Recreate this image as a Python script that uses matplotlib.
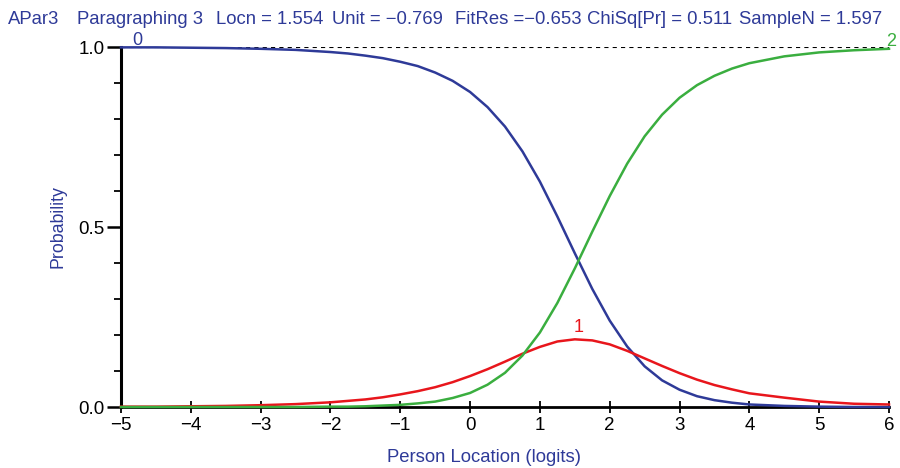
import matplotlib
matplotlib.use('Agg')
import matplotlib.pyplot as plt
from matplotlib.ticker import MultipleLocator

plt.rcParams['font.family'] = ['Liberation Sans', 'DejaVu Sans']

# Person location (logits) at which the curves were read
location = [-5, -4.5, -4, -3.5, -3, -2.5, -2, -1.75, -1.5, -1.25, -1, -0.75, -0.5, -0.25,
            0, 0.25, 0.5, 0.75, 1, 1.25, 1.5, 1.75, 2, 2.25, 2.5, 2.75, 3, 3.25, 3.5, 3.75,
            4, 4.5, 5, 5.5, 6]

# Category probability curves (categories 0, 1, 2)
cat0 = [0.999, 0.999, 0.998, 0.997, 0.995, 0.992, 0.986, 0.982, 0.976, 0.969, 0.959, 0.947,
        0.929, 0.906, 0.875, 0.833, 0.779, 0.710, 0.626, 0.529, 0.427, 0.328, 0.240, 0.168,
        0.113, 0.074, 0.048, 0.030, 0.019, 0.012, 0.007, 0.003, 0.001, 0.000, 0.000]
cat1 = [0.001, 0.001, 0.002, 0.003, 0.005, 0.008, 0.013, 0.017, 0.021, 0.027, 0.035, 0.044,
        0.055, 0.069, 0.086, 0.105, 0.126, 0.148, 0.167, 0.182, 0.188, 0.185, 0.174, 0.156,
        0.135, 0.114, 0.094, 0.076, 0.061, 0.049, 0.038, 0.026, 0.015, 0.009, 0.007]
cat2 = [0.000, 0.000, 0.000, 0.000, 0.000, 0.000, 0.001, 0.001, 0.002, 0.004, 0.006, 0.010,
        0.015, 0.025, 0.039, 0.062, 0.095, 0.143, 0.207, 0.289, 0.385, 0.487, 0.586, 0.676,
        0.752, 0.812, 0.859, 0.894, 0.920, 0.940, 0.955, 0.974, 0.985, 0.991, 0.995]

header = [('APar3', 8), ('Paragraphing 3', 77), ('Locn = 1.554', 216), ('Unit = \u22120.769', 332),
          ('FitRes =\u22120.653', 455), ('ChiSq[Pr] = 0.511', 587), ('SampleN = 1.597', 739)]

blue = '#2e3a98'
red = '#e8161c'
green = '#3aae3f'

fig = plt.figure(figsize=(9, 4.68), dpi=100)
ax = fig.add_axes([121 / 900, 61 / 468, 768 / 900, 360 / 468])

ax.plot(location, cat0, color=blue, lw=1.8, zorder=3, clip_on=False)
ax.plot(location, cat1, color=red, lw=1.8, zorder=3, clip_on=False)
ax.plot(location, cat2, color=green, lw=1.8, zorder=3, clip_on=False)
ax.axhline(1.0, color='black', lw=1.5, linestyle=(0, (2.0, 2.0)), zorder=2)

ax.text(-4.77, 0.995, '0', color=blue, fontsize=13, ha='center', va='bottom')
ax.text(1.55, 0.198, '1', color=red, fontsize=13, ha='center', va='bottom')
ax.text(5.96, 1.015, '2', color=green, fontsize=13, ha='left', va='center', clip_on=False)

ax.set_xlim(-5, 6)
ax.set_ylim(0, 1)
ax.set_xticks(range(-5, 7))
ax.set_xticklabels([str(v).replace('-', '\u2212') for v in range(-5, 7)])
ax.set_yticks([0, 0.5, 1.0])
ax.set_yticklabels(['0.0', '0.5', '1.0'])
ax.yaxis.set_minor_locator(MultipleLocator(0.1))

for side in ['top', 'right']:
    ax.spines[side].set_visible(False)
ax.spines['left'].set_linewidth(2.2)
ax.spines['bottom'].set_linewidth(2.0)

ax.tick_params(axis='x', direction='inout', length=8, width=1.3, labelsize=13.5, pad=3)
ax.tick_params(axis='y', which='major', direction='out', length=10, width=1.8, labelsize=13.5, pad=2)
ax.tick_params(axis='y', which='minor', direction='out', length=5, width=1.3)

ax.set_ylabel('Probability', color=blue, fontsize=12.8, labelpad=8)
fig.text(484 / 900, 1 - 458 / 468, 'Person Location (logits)', color=blue, fontsize=13.3,
         ha='center', va='center')

for txt, px in header:
    fig.text(px / 900, 1 - 19 / 468, txt, color=blue, fontsize=13.3, ha='left', va='center')

fig.savefig('out.png', dpi=100)
